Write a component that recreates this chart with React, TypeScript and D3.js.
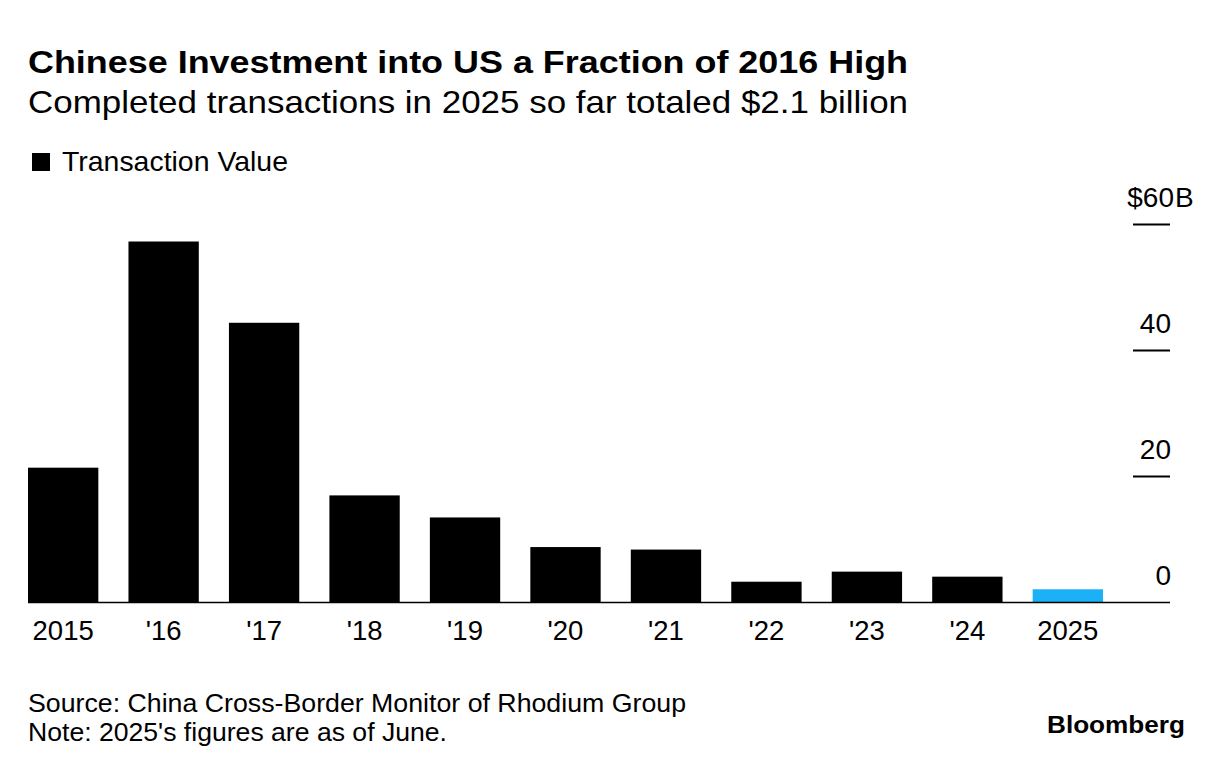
import React, { useEffect, useRef } from 'react';
import * as d3 from 'd3';

const years = ["2015", "'16", "'17", "'18", "'19", "'20", "'21", "'22", "'23", "'24", "2025"];
const values = [21.4, 57.3, 44.4, 17.0, 13.5, 8.8, 8.4, 3.3, 4.9, 4.1, 2.1];
const yTicks = [0, 20, 40, 60];

const FONT = "'Liberation Sans', Arial, Helvetica, sans-serif";

const App: React.FC = () => {
  const svgRef = useRef<SVGSVGElement>(null);
  const width = 1224;
  const height = 772;

  useEffect(() => {
    if (!svgRef.current) return;
    const svg = d3.select(svgRef.current);
    svg.selectAll("*").remove();

    const x = d3.scaleBand<string>()
      .domain(years)
      .range([28, 1103])
      .paddingInner(0.3)
      .paddingOuter(0);

    const y = d3.scaleLinear()
      .domain([0, 60])
      .range([602.5, 224.5]);

    // titles
    svg.append("text")
      .attr("x", 28).attr("y", 73)
      .attr("font-family", FONT).attr("font-weight", "bold")
      .attr("font-size", 32)
      .attr("textLength", 880).attr("lengthAdjust", "spacingAndGlyphs")
      .text("Chinese Investment into US a Fraction of 2016 High");

    svg.append("text")
      .attr("x", 28).attr("y", 113)
      .attr("font-family", FONT)
      .attr("font-size", 32)
      .attr("textLength", 880).attr("lengthAdjust", "spacingAndGlyphs")
      .text("Completed transactions in 2025 so far totaled $2.1 billion");

    // legend
    svg.append("rect")
      .attr("x", 32).attr("y", 153).attr("width", 18).attr("height", 18)
      .attr("fill", "#000");
    svg.append("text")
      .attr("x", 62).attr("y", 171)
      .attr("font-family", FONT).attr("font-size", 27.5)
      .attr("textLength", 226).attr("lengthAdjust", "spacingAndGlyphs")
      .text("Transaction Value");

    // bars
    svg.append("g")
      .selectAll("rect")
      .data(values)
      .join("rect")
        .attr("x", (_, i) => x(years[i])!)
        .attr("y", d => y(d))
        .attr("width", x.bandwidth())
        .attr("height", d => y(0) - y(d))
        .attr("fill", (_, i) => i === years.length - 1 ? "#1AB1F7" : "#000");

    // baseline
    svg.append("line")
      .attr("x1", 28).attr("x2", 1170)
      .attr("y1", y(0)).attr("y2", y(0))
      .attr("stroke", "#000").attr("stroke-width", 1.5);

    // y ticks on the right
    const tick = svg.append("g").selectAll("g").data(yTicks).join("g");
    tick.filter(d => d !== 0)
      .append("line")
        .attr("x1", 1133).attr("x2", 1170)
        .attr("y1", d => y(d)).attr("y2", d => y(d))
        .attr("stroke", "#000").attr("stroke-width", 2);
    tick.append("text")
      .attr("x", d => d === 60 ? 1174 : 1171)
      .attr("y", d => y(d) - 17.5)
      .attr("text-anchor", "end")
      .attr("font-family", FONT).attr("font-size", 28)
      .text(d => d === 60 ? "$60" : String(d));
    svg.append("text")
      .attr("x", 1175).attr("y", y(60) - 17.5)
      .attr("font-family", FONT).attr("font-size", 28)
      .text("B");

    // x labels
    svg.append("g")
      .selectAll("text")
      .data(years)
      .join("text")
        .attr("x", d => x(d)! + x.bandwidth() / 2)
        .attr("y", 640)
        .attr("text-anchor", "middle")
        .attr("font-family", FONT).attr("font-size", 27.5)
        .text(d => d);

    // footer
    svg.append("text")
      .attr("x", 28).attr("y", 712)
      .attr("font-family", FONT).attr("font-size", 25.5)
      .attr("textLength", 658).attr("lengthAdjust", "spacingAndGlyphs")
      .text("Source: China Cross-Border Monitor of Rhodium Group");
    svg.append("text")
      .attr("x", 28).attr("y", 741)
      .attr("font-family", FONT).attr("font-size", 25.5)
      .attr("textLength", 419).attr("lengthAdjust", "spacingAndGlyphs")
      .text("Note: 2025's figures are as of June.");
    svg.append("text")
      .attr("x", 1185).attr("y", 733)
      .attr("text-anchor", "end")
      .attr("font-family", FONT).attr("font-weight", "bold")
      .attr("font-size", 23)
      .attr("textLength", 138).attr("lengthAdjust", "spacingAndGlyphs")
      .text("Bloomberg");
  }, []);

  return (
    <svg
      ref={svgRef}
      width={width}
      height={height}
      style={{ position: 'absolute', left: 0, top: 0, background: '#fff' }}
    />
  );
};

export default App;
